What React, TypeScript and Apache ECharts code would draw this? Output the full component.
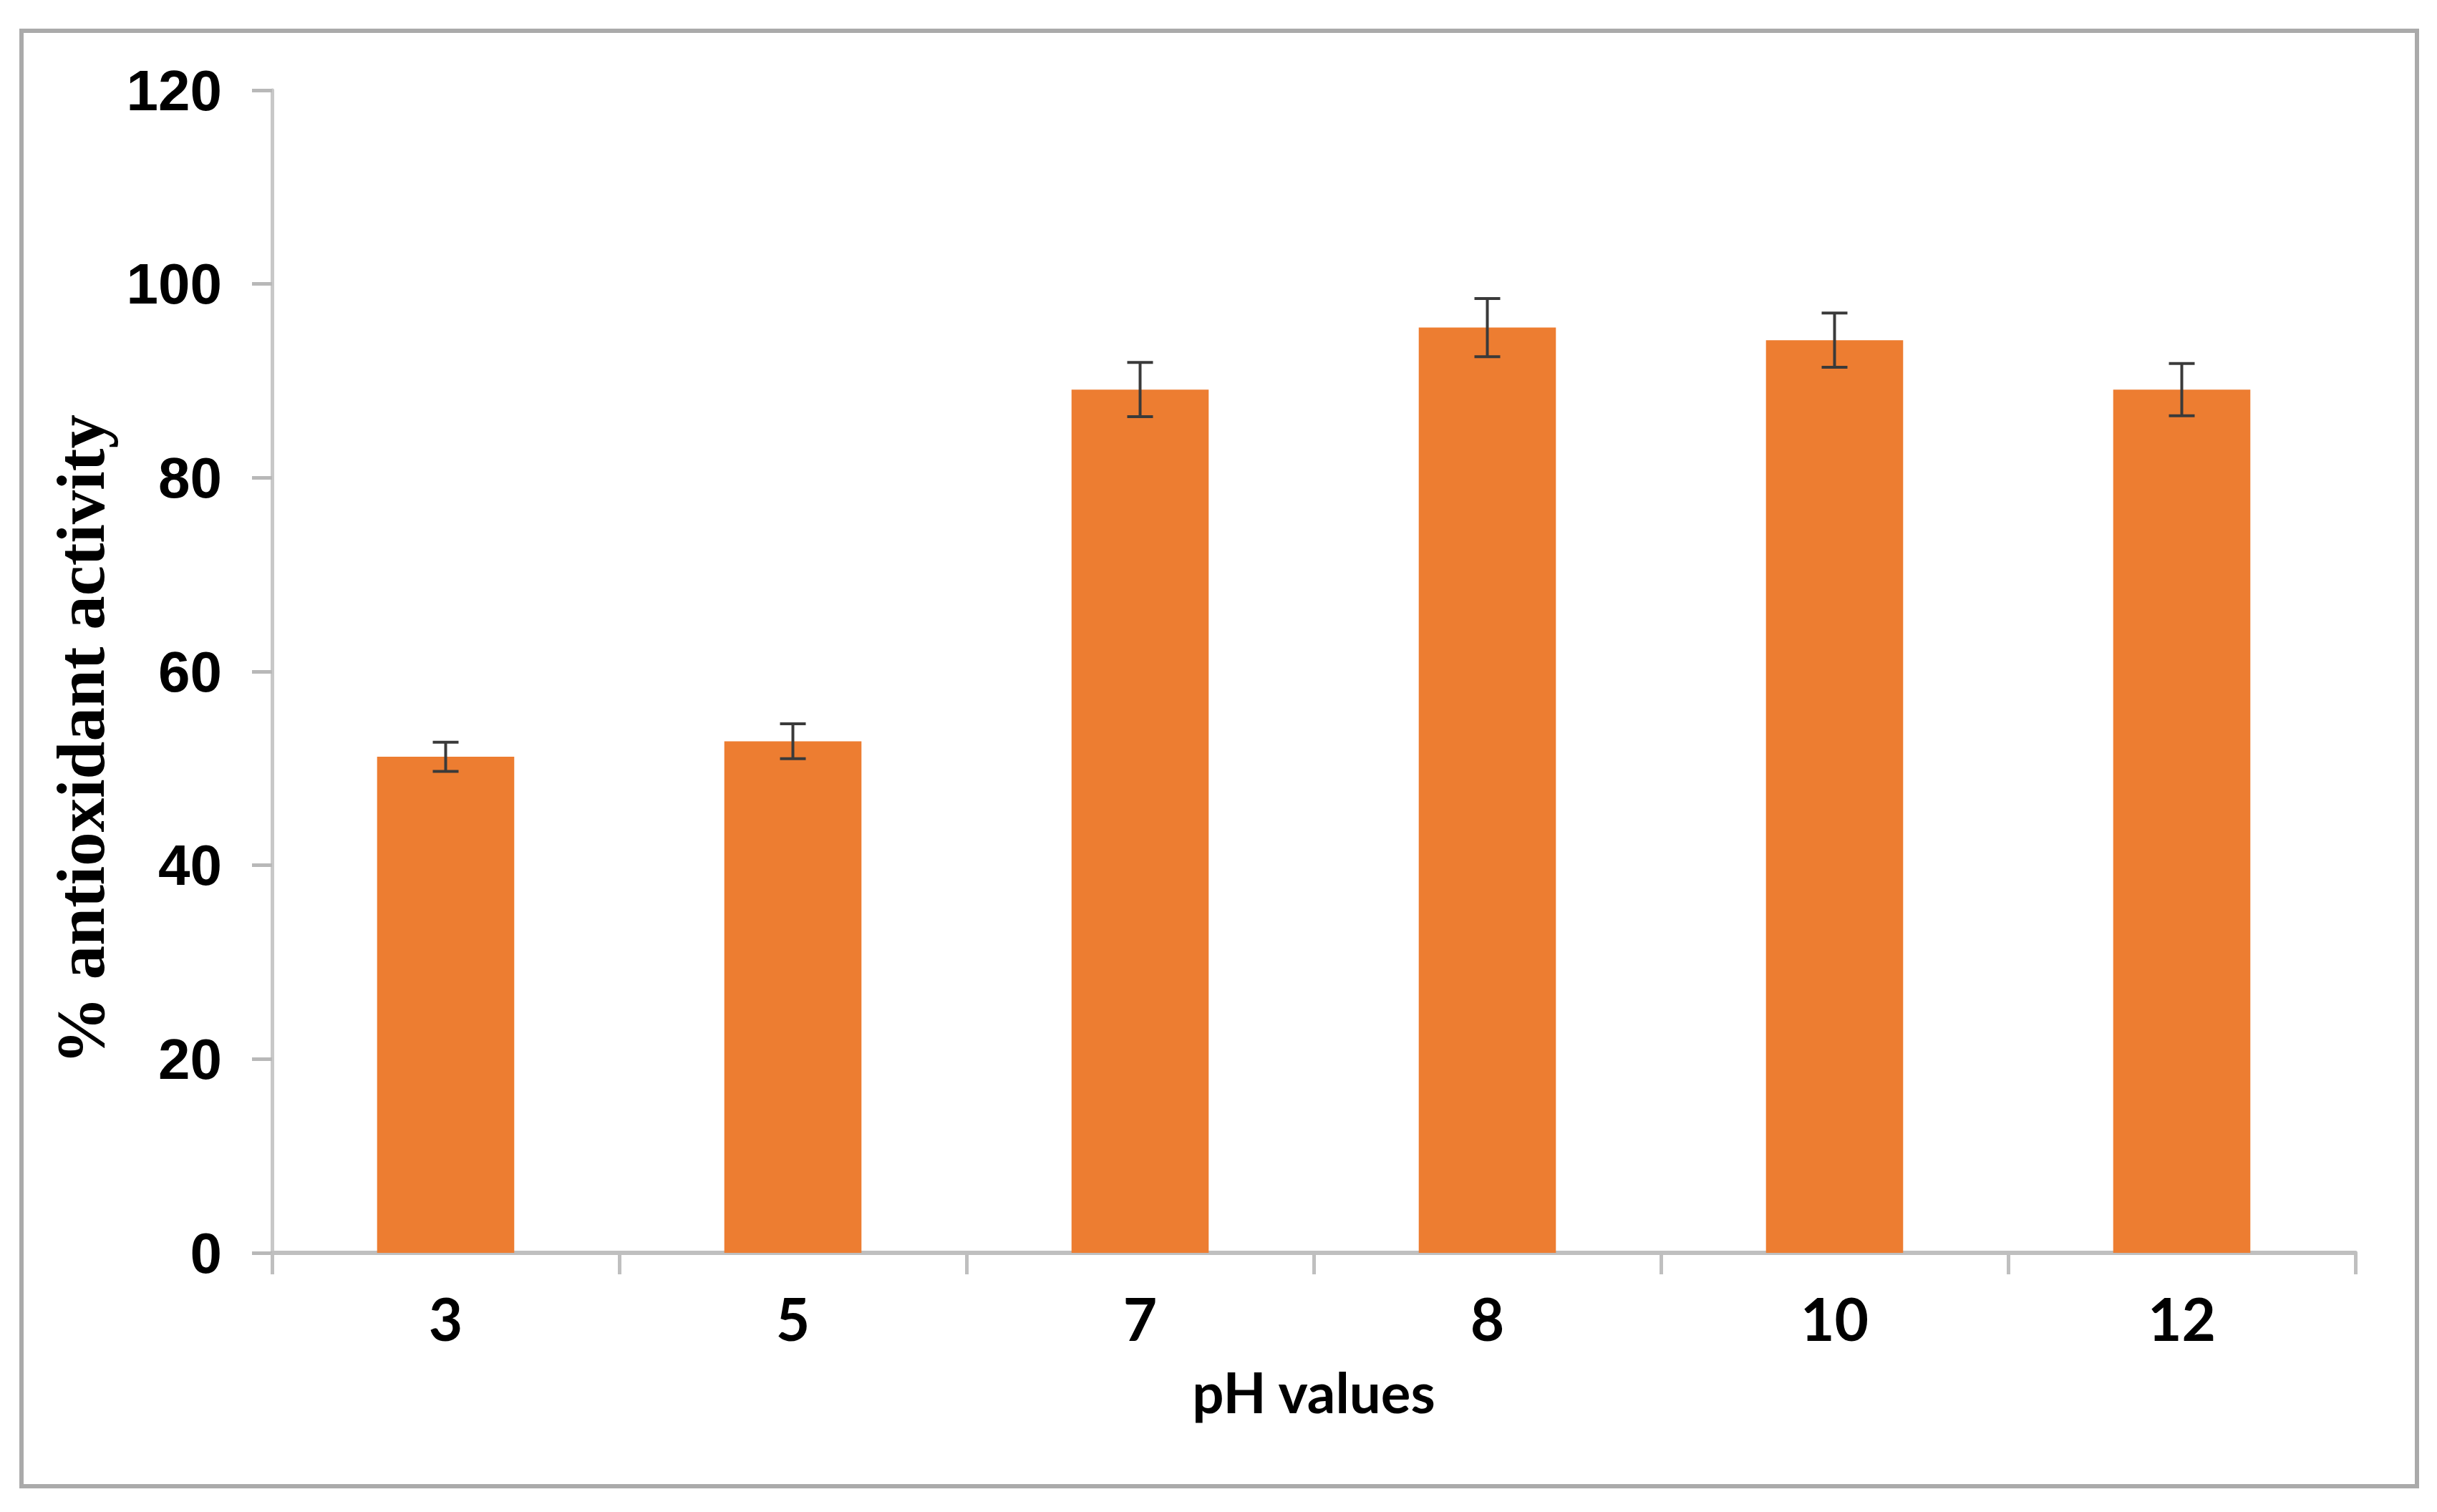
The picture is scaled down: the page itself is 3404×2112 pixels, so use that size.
import React, { useEffect, useRef } from "react";
import * as echarts from "echarts";

const categories = ["3", "5", "7", "8", "10", "12"];
const activity = [51.2, 52.8, 89.1, 95.5, 94.2, 89.1];
const errors = [1.5, 1.8, 2.8, 3.0, 2.8, 2.7];
const yTicks = { min: 0, max: 120, interval: 20 };
const yTitle = "% antioxidant activity";
const xTitle = "pH values";

export default function App() {
  const ref = useRef<HTMLDivElement>(null);
  useEffect(() => {
    if (!ref.current) return;
    const chart = echarts.init(ref.current, undefined, { renderer: "svg" });
    const errData = categories.map((c, i) => [i, activity[i] - errors[i], activity[i] + errors[i]]);
    chart.setOption({
      animation: false,
      backgroundColor: "#ffffff",
      grid: { left: 380, right: 114, top: 126, bottom: 362, containLabel: false },
      graphic: [
        {
          type: "rect",
          shape: { x: 30, y: 43, width: 3346, height: 2033 },
          style: { fill: "none", stroke: "#aaaaaa", lineWidth: 6 },
          silent: true,
        },
        {
          type: "text",
          x: 113,
          y: 1033,
          rotation: Math.PI / 2,
          style: {
            text: yTitle,
            fontFamily: "Liberation Serif",
            fontWeight: "bold",
            fontSize: 95,
            fill: "#000",
            align: "center",
            verticalAlign: "middle",
          },
          silent: true,
        },
      ],
      xAxis: {
        type: "category",
        data: categories,
        name: xTitle,
        nameLocation: "middle",
        nameGap: 155,
        nameTextStyle: { fontFamily: "Lato", fontWeight: "bold", fontSize: 78, color: "#000" },
        axisLine: { show: true, lineStyle: { color: "#bfbfbf", width: 6 } },
        axisTick: { show: true, alignWithLabel: false, length: 30, lineStyle: { color: "#bfbfbf", width: 5 } },
        axisLabel: { fontFamily: "Lato", fontWeight: "bold", fontSize: 82, color: "#000", margin: 50 },
        splitLine: { show: false },
      },
      yAxis: {
        type: "value",
        min: yTicks.min,
        max: yTicks.max,
        interval: yTicks.interval,
        axisLine: { show: true, lineStyle: { color: "#c8c8c8", width: 5 } },
        axisTick: { show: true, length: 28, lineStyle: { color: "#b8b8b8", width: 5 } },
        axisLabel: { fontFamily: "Liberation Sans", fontWeight: "bold", fontSize: 80, color: "#000", margin: 70 },
        splitLine: { show: false },
      },
      series: [
        {
          type: "bar",
          data: activity,
          barWidth: "39.5%",
          itemStyle: { color: "#ED7D31" },
        },
        {
          type: "custom",
          data: errData,
          z: 10,
          renderItem: (params: any, api: any) => {
            const x = api.value(0);
            const lo = api.coord([x, api.value(1)]);
            const hi = api.coord([x, api.value(2)]);
            const half = 18;
            const style = { stroke: "#3a3a3a", lineWidth: 4 };
            return {
              type: "group",
              children: [
                { type: "line", shape: { x1: hi[0], y1: hi[1], x2: lo[0], y2: lo[1] }, style },
                { type: "line", shape: { x1: hi[0] - half, y1: hi[1], x2: hi[0] + half, y2: hi[1] }, style },
                { type: "line", shape: { x1: lo[0] - half, y1: lo[1], x2: lo[0] + half, y2: lo[1] }, style },
              ],
            };
          },
        },
      ],
    });
    return () => chart.dispose();
  }, []);
  return (
    <div
      ref={ref}
      style={{ position: "fixed", left: 0, top: 0, width: 3404, height: 2112, background: "#fff" }}
    />
  );
}
